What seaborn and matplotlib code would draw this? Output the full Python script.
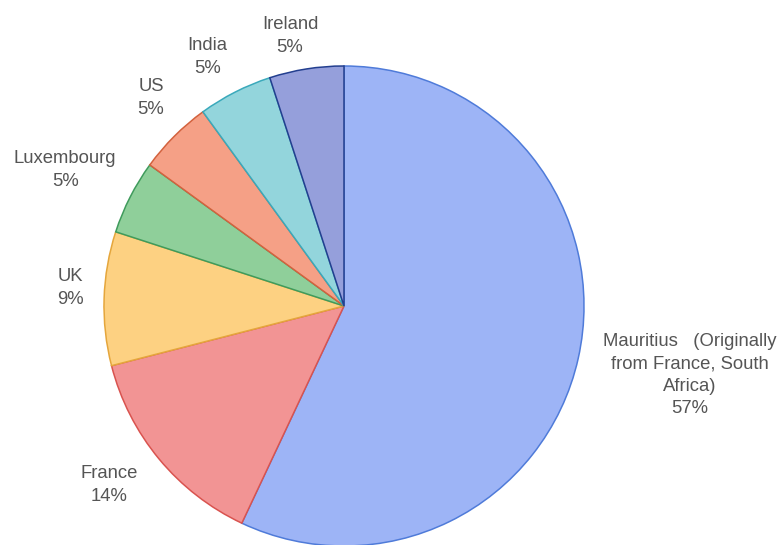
import matplotlib
matplotlib.use("Agg")
import matplotlib.pyplot as plt
import numpy as np
import seaborn as sns

# Country share data, drawn clockwise from 12 o'clock
countries = ["Mauritius   (Originally\nfrom France, South\nAfrica)", "France", "UK",
             "Luxembourg", "US", "India", "Ireland"]
shares = [57, 14, 9, 5, 5, 5, 5]

fill_colors = ["#9db4f6", "#f29494", "#fdd182", "#8fcf9a", "#f5a086", "#93d5dc", "#959fdb"]
edge_colors = ["#4f7bd9", "#d9534f", "#e5a63c", "#3f9b5c", "#d3623e", "#3aa9bb", "#233f8f"]

# Radial distance of each label (in pie radii) and a small angular nudge (degrees)
label_radius = [1.47, 1.23, 1.144, 1.293, 1.182, 1.184, 1.147]
label_nudge = [1.3, -2.3, -2.0, 1.0, -2.1, 1.8, 2.3]

sns.set_theme(style="white")
plt.rcParams["font.family"] = ["Liberation Sans", "DejaVu Sans"]

W, H, DPI = 781, 545, 100
fig = plt.figure(figsize=(W / DPI, H / DPI), dpi=DPI)
fig.patch.set_facecolor("white")
ax = fig.add_axes([0, 0, 1, 1])

cx, cy, R = 344, 306, 240  # pixel centre and radius of the pie

wedges, _ = ax.pie(shares, startangle=90, counterclock=False,
                   colors=fill_colors, radius=1.0,
                   wedgeprops=dict(linewidth=1.1))
for w, ec in zip(wedges, edge_colors):
    w.set_edgecolor(ec)

total = sum(shares)
for w, name, v, rf, nd in zip(wedges, countries, shares, label_radius, label_nudge):
    mid = np.deg2rad((w.theta1 + w.theta2) / 2 + nd)
    x, y = rf * np.cos(mid), rf * np.sin(mid)
    pct = f"{round(100 * v / total)}%"
    ax.text(x, y, f"{name}\n{pct}", ha="center", va="center",
            fontsize=13.3, color="#555555", linespacing=1.42)

ax.set_xlim(-cx / R, (W - cx) / R)
ax.set_ylim(-(H - cy) / R, cy / R)
ax.set_aspect("auto")
ax.axis("off")

fig.savefig("out.png", dpi=DPI, facecolor="white")
